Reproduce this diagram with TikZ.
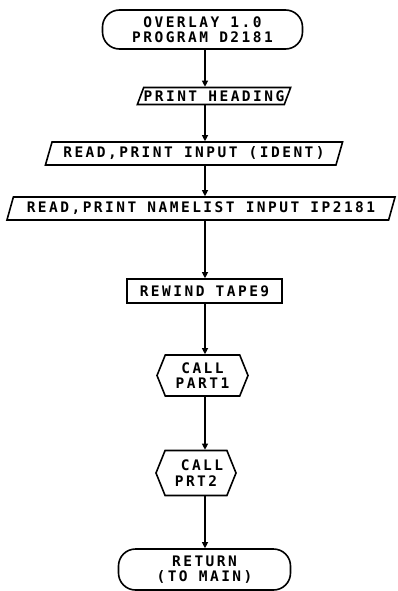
\documentclass[tikz,border=0pt]{standalone}
\usepackage{fontspec}
\newfontfamily\plotfont{DejaVu Sans Mono}[LetterSpace=17]
\usetikzlibrary{shapes.geometric,shapes.symbols,arrows.meta}
\tikzset{
  txt/.style={font=\plotfont\bfseries\fontsize{14.5}{15.5}\selectfont, align=center, inner sep=0pt},
  term/.style={txt, draw, line width=1.6pt, rectangle, rounded corners=17pt},
  para/.style={txt, draw, line width=1.6pt, trapezium, trapezium stretches=true,
     trapezium left angle=#1, trapezium right angle=180-#1},
  proc/.style={txt, draw, line width=1.6pt, rectangle},
  hexa/.style={txt, draw, line width=1.6pt, signal, signal to=east and west, signal pointer angle=136},
  arr/.style={line width=1.1pt, -{Triangle[length=6pt,width=6pt]}}
}
\begin{document}
\begin{tikzpicture}[x=1pt,y=-1pt]
\useasboundingbox (0,0) rectangle (398,591);
\coordinate (axis) at (205,0);
\node[term, minimum width=200pt, minimum height=39pt] (start) at (202.5,29.5) {OVERLAY 1.0\\PROGRAM D2181};
\node[para=60, minimum width=142pt, minimum height=17pt] (head) at (214,96) {PRINT HEADING};
\node[para=65, minimum width=298pt, minimum height=23pt] (ident) at (194,153.5) {READ,PRINT INPUT (IDENT)};
\node[para=65, minimum width=390pt, minimum height=23pt] (nml) at (201,208.5) {READ,PRINT NAMELIST INPUT IP2181};
\node[proc, minimum width=155pt, minimum height=24pt] (rew) at (204.5,291) {REWIND TAPE9};
\node[hexa, minimum width=91pt, minimum height=41pt] (p1) at (202.5,375.5) {CALL\\PART1};
\node[hexa, minimum width=80pt, minimum height=45pt] (p2) at (196,473) {\hspace{12pt}CALL\\PRT2\hspace{0pt}};
\node[term, minimum width=172pt, minimum height=41pt] (ret) at (204.5,569.5) {RETURN\\(TO MAIN)};
\draw[arr] (start.south -| axis) -- (head.north -| axis);
\draw[arr] (head.south -| axis) -- (ident.north -| axis);
\draw[arr] (ident.south -| axis) -- (nml.north -| axis);
\draw[arr] (nml.south -| axis) -- (rew.north -| axis);
\draw[arr] (rew.south -| axis) -- (p1.north -| axis);
\draw[arr] (p1.south -| axis) -- (p2.north -| axis);
\draw[arr] (p2.south -| axis) -- (ret.north -| axis);
\end{tikzpicture}
\end{document}
